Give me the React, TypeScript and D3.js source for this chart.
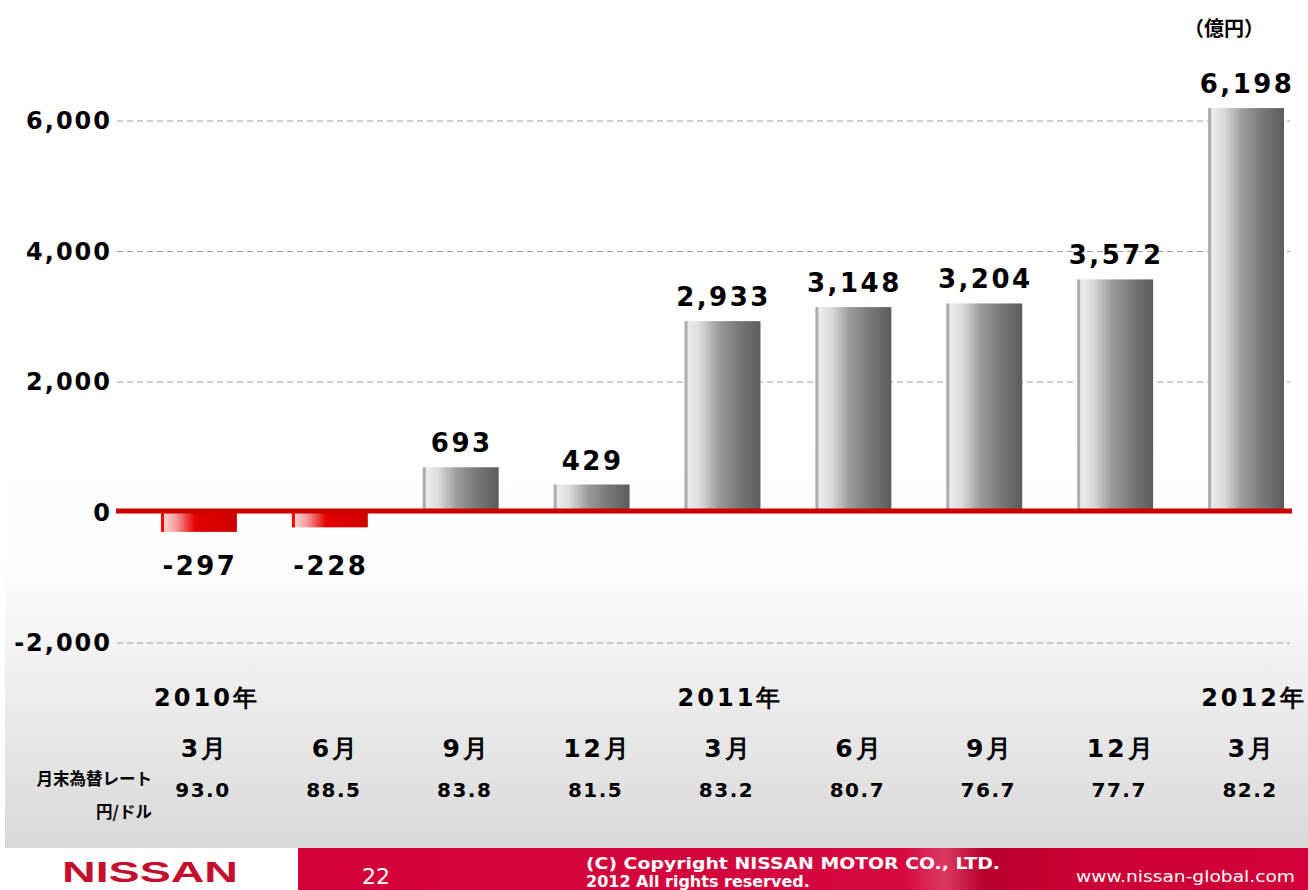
import React from "react";
import * as d3 from "d3";

// net cash (automotive), 億円, at each quarter end
const periods = ["2010/3", "2010/6", "2010/9", "2010/12", "2011/3", "2011/6", "2011/9", "2011/12", "2012/3"];
const netCash = [-297, -228, 693, 429, 2933, 3148, 3204, 3572, 6198];
const monthLabels = ["3月", "6月", "9月", "12月", "3月", "6月", "9月", "12月", "3月"];
const fxRates = ["93.0", "88.5", "83.8", "81.5", "83.2", "80.7", "76.7", "77.7", "82.2"];
const yearLabels = [
  { label: "2010年", at: "2010/3" },
  { label: "2011年", at: "2011/3" },
  { label: "2012年", at: "2012/3" },
];
const yTicks = [-2000, 0, 2000, 4000, 6000];

const W = 1308;
const H = 890;
const NUM_FONT = "'DejaVu Sans', Verdana, sans-serif";
const JP_FONT = "'Noto Sans CJK JP', 'Noto Sans', sans-serif";

// d3 uses a unicode minus, the slide uses a plain hyphen
const fmt = (v: number) => d3.format(",")(v).replace("\u2212", "-");

const App = () => {
  const x = d3
    .scaleBand<string>()
    .domain(periods)
    .range([133.5, 1311.5])
    .paddingInner(0.42)
    .paddingOuter(0.21);
  const y = d3.scaleLinear().domain([-2000, 6000]).range([643, 121]);
  const bw = x.bandwidth();
  const cx = (p: string) => (x(p) as number) + bw / 2;

  return (
    <svg
      width={W}
      height={H}
      style={{ position: "absolute", left: 0, top: 0, display: "block", background: "#fff" }}
    >
      <defs>
        <linearGradient id="panel" x1="0" y1="0" x2="0" y2="1">
          <stop offset="0" stopColor="#ffffff" />
          <stop offset="0.35" stopColor="#fcfcfc" />
          <stop offset="1" stopColor="#d9d9d9" />
        </linearGradient>
        <linearGradient id="barGray" x1="0" y1="0" x2="1" y2="0">
          <stop offset="0" stopColor="#f2f2f2" />
          <stop offset="0.2" stopColor="#dcdcdc" />
          <stop offset="0.45" stopColor="#9c9c9c" />
          <stop offset="0.7" stopColor="#7a7a7a" />
          <stop offset="1" stopColor="#5c5c5c" />
        </linearGradient>
        <linearGradient id="barRed" x1="0" y1="0" x2="1" y2="0">
          <stop offset="0" stopColor="#fde0e0" />
          <stop offset="0.2" stopColor="#f79a9a" />
          <stop offset="0.45" stopColor="#e60000" />
          <stop offset="1" stopColor="#cc0000" />
        </linearGradient>
        <linearGradient id="footer" x1="0" y1="0" x2="1" y2="0">
          <stop offset="0" stopColor="#d20039" />
          <stop offset="0.6" stopColor="#d5083f" />
          <stop offset="0.64" stopColor="#dc3a62" />
          <stop offset="0.68" stopColor="#b8002c" />
          <stop offset="0.78" stopColor="#cc0034" />
          <stop offset="1" stopColor="#d20039" />
        </linearGradient>
      </defs>

      {/* background panel */}
      <rect x={5} y={430} width={W - 5} height={418} fill="url(#panel)" />

      {/* unit */}
      <text x={1224} y={36} textAnchor="middle" fontFamily={JP_FONT} fontWeight="bold" fontSize={20}>
        （億円）
      </text>

      {/* grid */}
      {yTicks
        .filter((t) => t !== 0)
        .map((t) => (
          <line
            key={"g" + t}
            x1={117}
            x2={1290}
            y1={y(t)}
            y2={y(t)}
            stroke="#a0a0a0"
            strokeWidth={1}
            strokeDasharray="6,4"
          />
        ))}

      {/* y tick labels */}
      {yTicks.map((t) => (
        <text
          key={"t" + t}
          x={112}
          y={y(t) + 8}
          textAnchor="end"
          fontFamily={NUM_FONT}
          fontWeight="bold"
          fontSize={24}
          letterSpacing={2}
        >
          {fmt(t)}
        </text>
      ))}

      {/* bars */}
      {periods.map((p, i) => {
        const v = netCash[i];
        const top = v >= 0 ? y(v) : y(0);
        const h = Math.abs(y(v) - y(0));
        const bx = x(p) as number;
        return (
          <g key={p}>
            <rect x={bx} y={top} width={bw} height={h} fill={v >= 0 ? "url(#barGray)" : "url(#barRed)"} />
            <rect x={bx} y={top} width={3} height={h} fill={v >= 0 ? "#adadad" : "#ff0000"} />
          </g>
        );
      })}

      {/* zero line */}
      <rect x={116} y={y(0) - 4} width={1176} height={5} fill="#cc0000" />

      {/* value labels */}
      {periods.map((p, i) => {
        const v = netCash[i];
        return (
          <text
            key={"v" + p}
            x={cx(p) + 1}
            y={v >= 0 ? y(v) - 15 : 575}
            textAnchor="middle"
            fontFamily={NUM_FONT}
            fontWeight="bold"
            fontSize={26}
            letterSpacing={2.5}
          >
            {fmt(v)}
          </text>
        );
      })}

      {/* year row */}
      {yearLabels.map((d) => (
        <text
          key={d.label}
          x={cx(d.at) + 8}
          y={706}
          textAnchor="middle"
          fontFamily={NUM_FONT}
          fontWeight="bold"
          fontSize={24}
          letterSpacing={3}
        >
          {d.label}
        </text>
      ))}

      {/* month row */}
      {periods.map((p, i) => (
        <text
          key={"m" + p}
          x={cx(p) + 6}
          y={757}
          textAnchor="middle"
          fontFamily={NUM_FONT}
          fontWeight="bold"
          fontSize={25}
          letterSpacing={3}
        >
          {monthLabels[i]}
        </text>
      ))}

      {/* fx rate row */}
      <text x={152} y={785} textAnchor="end" fontFamily={JP_FONT} fontWeight="bold" fontSize={16.5}>
        月末為替レート
      </text>
      <text x={152} y={818} textAnchor="end" fontFamily={JP_FONT} fontWeight="bold" fontSize={16.5}>
        円/ドル
      </text>
      {periods.map((p, i) => (
        <text
          key={"r" + p}
          x={cx(p) + 4}
          y={797}
          textAnchor="middle"
          fontFamily={NUM_FONT}
          fontWeight="bold"
          fontSize={20}
          letterSpacing={1.5}
        >
          {fxRates[i]}
        </text>
      ))}

      {/* footer */}
      <rect x={0} y={848} width={W} height={42} fill="#fff" />
      <rect x={298} y={848} width={W - 298} height={42} fill="url(#footer)" />
      <text
        x={62}
        y={882}
        fontFamily="'Liberation Sans', Arial, sans-serif"
        fontWeight="bold"
        fontSize={30}
        fill="#c4102e"
        textLength={176}
        lengthAdjust="spacingAndGlyphs"
      >
        NISSAN
      </text>
      <text x={362} y={884} fontFamily={NUM_FONT} fontSize={22} fill="#fff">
        22
      </text>
      <text
        x={586}
        y={869}
        fontFamily={NUM_FONT}
        fontWeight="bold"
        fontSize={16}
        fill="#fff"
        textLength={414}
        lengthAdjust="spacingAndGlyphs"
      >
        (C) Copyright NISSAN MOTOR CO., LTD.
      </text>
      <text x={586} y={887} fontFamily={NUM_FONT} fontWeight="bold" fontSize={16} fill="#fff">
        2012 All rights reserved.
      </text>
      <text
        x={1076}
        y={882}
        fontFamily={NUM_FONT}
        fontSize={16}
        fill="#fff"
        textLength={219}
        lengthAdjust="spacingAndGlyphs"
      >
        www.nissan-global.com
      </text>
    </svg>
  );
};

export default App;
